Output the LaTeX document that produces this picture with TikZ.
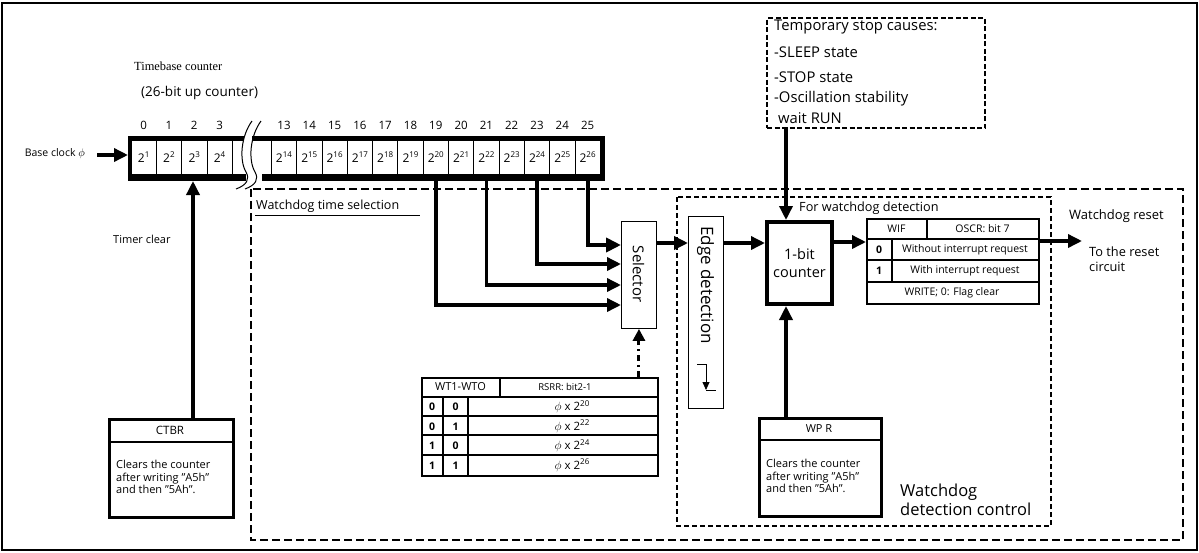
\documentclass[tikz,border=0pt]{standalone}
\usepackage{fontspec}
\setmainfont{Open Sans}
\newfontfamily\tbserif{Liberation Serif}
\usetikzlibrary{arrows.meta}
\newcommand\fsz[1]{\fontsize{#1}{#1}\selectfont}
\newcommand\pw[1]{2\raisebox{0.42em}{\fsz{8}#1}}
\begin{document}
\begin{tikzpicture}[x=1pt,y=-1pt,
  arr/.style={line width=3.4pt,-{Triangle[length=14pt,width=13pt]}},
  arrb/.style={line width=4.2pt,-{Triangle[length=15pt,width=14pt]}},
  lt/.style={inner sep=0pt,anchor=west},
  ct/.style={inner sep=0pt,anchor=center},
  thinbox/.style={draw,line width=0.9pt,inner sep=0pt},
  regbox/.style={draw,line width=2.6pt,inner sep=0pt},
  outerdash/.style={line width=1.4pt,dash pattern=on 8pt off 4pt},
  innerdash/.style={line width=2pt,dash pattern=on 5pt off 3pt},
  tempdash/.style={line width=2.2pt,dash pattern=on 5pt off 2.5pt},
  ddot/.style={line width=3pt,dash pattern=on 6pt off 4pt on 2pt off 4pt,-{Triangle[length=12pt,width=12pt]}},
  cellline/.style={line width=0.8pt}]
\useasboundingbox (0,0) rectangle (1199,552);
% frame
\draw[line width=1.4pt] (2,3) rectangle (1197,550);

% titles
\node[lt,font=\tbserif\fsz{12.4}] (tbc) at (134,66) {Timebase counter};
\node[lt,font=\fsz{13.5}] (tbc2) at (141,93) {(26-bit up counter)};

% register left part
\draw[line width=5pt] (128,138.5) -- (244,138.5);
\draw[line width=7pt] (128,177.5) -- (246,177.5);
\draw[line width=4pt] (130,136) -- (130,181);
\foreach \i in {1,...,4} \draw[cellline] ({131+25.3*\i},141) -- ({131+25.3*\i},174);
\foreach \d [evaluate=\d as \p using int(\d+1)] in {0,...,3} {
  \node[ct,font=\fsz{12}] (cl\d) at ({143.65+25.3*\d},157.5) {\pw{\p}};
  \node[ct,font=\fsz{11.5}] (nl\d) at ({143.65+25.3*\d},125) {\d};
}
% register right part
\draw[line width=5pt] (252,138.5) -- (605,138.5);
\draw[line width=7pt] (262,177.5) -- (605,177.5);
\draw[line width=4.5pt] (602.5,136) -- (602.5,181);
\foreach \i in {0,...,12} \draw[cellline] ({271.35+25.3*\i},141) -- ({271.35+25.3*\i},174);
\foreach \d [evaluate=\d as \p using int(\d+1)] in {13,...,25} {
  \node[ct,font=\fsz{12}] (cr\d) at ({284+25.3*(\d-13)},157.5) {\pw{\p}};
  \node[ct,font=\fsz{11.5}] (nr\d) at ({284+25.3*(\d-13)},125) {\d};
}
% break mark
\draw[line width=1pt] (252,121) .. controls (241,136) and (239,160) .. (246,172) .. controls (250,179) and (247,185) .. (236,189);
\draw[line width=1pt] (261,121) .. controls (250,136) and (248,160) .. (255,172) .. controls (259,179) and (256,185) .. (245,189);

% base clock
\node[inner sep=0pt,anchor=east,font=\fsz{10.5}] (bclk) at (85,154) {Base clock $\phi$};
\coordinate (regin) at (128,155);
\draw[arr] (97,155) -- (regin);

% outer dashed box
\draw[outerdash] (251,189) rectangle (1183,540);
\node[lt,font=\fsz{12.5}] (wts) at (256,206) {Watchdog time selection};
\draw[line width=0.8pt] (255,215) -- (420,215);

% timer clear and CTBR
\node[lt,font=\fsz{11}] (tclr) at (113,239) {Timer clear};
\node[regbox,minimum width=124pt,minimum height=98pt,anchor=north west] (ctbr) at (108,418) {};
\draw[line width=2.6pt] (108,442) -- (232,442);
\node[ct,font=\fsz{11.5}] (ctbrh) at (170,430) {CTBR};
\node[lt,font=\fsz{11},align=left] (ctbrt) at (116,477) {Clears the counter\\[1.5pt]after writing "A5h"\\[1.5pt]and then "5Ah".};
\coordinate (regclr) at (193,181);
\draw[arr] (ctbr.north -| regclr) -- (regclr);

% selector
\node[thinbox,minimum width=35pt,minimum height=107pt,anchor=north west] (sel) at (621,221) {};
\node[ct,rotate=-90,font=\fsz{15}] (selt) at (638.5,274) {Selector};
\coordinate (t25) at (587.6,181);
\coordinate (t23) at (537,181);
\coordinate (t21) at (486.4,181);
\coordinate (t19) at (435.8,181);
\draw[arrb] (t25) |- (sel.west |- 0,245);
\draw[arr] (t23) |- (sel.west |- 0,264);
\draw[arr] (t21) |- (sel.west |- 0,285);
\draw[arr] (t19) |- (sel.west |- 0,305);

% WT table
\node[regbox,minimum width=236pt,minimum height=98pt,anchor=north west,line width=2.2pt] (wt) at (421,377) {};
\foreach \y in {397,416,435,455} \draw[line width=1.7pt] (421,\y) -- (657,\y);
\draw[line width=1.7pt] (500,377) -- (500,397);
\draw[line width=1.7pt] (443,397) -- (443,475);
\draw[line width=1.7pt] (468,397) -- (468,475);
\node[ct,font=\fsz{11}] (wth1) at (460.5,387) {WT1-WTO};
\node[ct,font=\fsz{9.5}] (wth2) at (565,387) {RSRR: bit2-1};
\foreach \a/\b/\e [count=\k] in {0/0/20,0/1/22,1/0/24,1/1/26} {
  \pgfmathsetmacro\yy{397+19.5*\k-9.75}
  \node[ct,font=\bfseries\fsz{10.5}] (wa\k) at (432,\yy) {\a};
  \node[ct,font=\bfseries\fsz{10.5}] (wb\k) at (455.5,\yy) {\b};
  \node[ct,font=\fsz{11.5}] (wv\k) at (572,\yy) {$\phi$ x \pw{\e}};
}
\draw[ddot] (wt.north -| sel.south) -- (sel.south);

% inner dashed box
\draw[innerdash] (677,197) rectangle (1051,526);
\node[lt,font=\fsz{12.7}] (fwd) at (799,208) {For watchdog detection};

% edge detection
\node[thinbox,minimum width=35pt,minimum height=192pt,anchor=north west] (edge) at (688,216) {};
\node[inner sep=0pt,anchor=west,rotate=-90,font=\fsz{17}] (edget) at (705.5,226) {Edge detection};
\draw[line width=0.8pt] (697,364) -- (706,364);
\draw[line width=0.8pt,-{Triangle[length=8pt,width=7pt]}] (706,364) -- (706,390);
\draw[line width=0.8pt] (706,390) -- (716,390);
\draw[arr] (sel.east |- 0,243) -- (edge.west |- 0,243);

% 1-bit counter
\node[draw,line width=4pt,minimum width=65pt,minimum height=82pt,anchor=north west,align=center,font=\fsz{14.5}] (cnt) at (765,220) {1-bit\\[3pt]counter};
\draw[arr] (edge.east |- 0,243) -- (cnt.west |- 0,243);

% temporary stop box
\node[draw,tempdash,minimum width=218pt,minimum height=110pt,anchor=north west] (temp) at (766,17) {};
\node[lt,font=\fsz{14.8}] (tp1) at (774,27) {Temporary stop causes:};
\node[lt,font=\fsz{14.8}] (tp2) at (774,52) {-SLEEP state};
\node[lt,font=\fsz{14.8}] (tp3) at (774,77) {-STOP state};
\node[lt,font=\fsz{14.8}] (tp4) at (774,99) {-Oscillation stability};
\node[lt,font=\fsz{14.8}] (tp5) at (778,118) {wait RUN};
\coordinate (tstop) at (786,127);
\draw[arr] (tstop) -- (tstop |- cnt.north);

% WPR
\node[regbox,minimum width=122pt,minimum height=98pt,anchor=north west] (wpr) at (758,417) {};
\draw[line width=2.6pt] (758,440) -- (880,440);
\node[ct,font=\fsz{11}] (wprh) at (819,428.5) {WP R};
\node[lt,font=\fsz{11},align=left] (wprt) at (766,476) {Clears the counter\\[1.5pt]after writing "A5h"\\[1.5pt]and then "5Ah".};
\draw[arr] (wpr.north -| tstop) -- (cnt.south -| tstop);
\node[lt,font=\fsz{16.5},align=left] (wdc) at (900,500) {Watchdog\\[3pt]detection control};

% WIF table
\node[regbox,minimum width=172pt,minimum height=85pt,anchor=north west,line width=2.4pt] (wif) at (866,218) {};
\foreach \y in {239,260,282} \draw[line width=2pt] (866,\y) -- (1038,\y);
\draw[line width=2pt] (927,218) -- (927,239);
\draw[line width=2pt] (892,239) -- (892,282);
\node[ct,font=\fsz{10.5}] (wifh1) at (896.5,228.5) {WIF};
\node[ct,font=\fsz{10.5}] (wifh2) at (982.5,228.5) {OSCR: bit 7};
\node[ct,font=\bfseries\fsz{10.5}] (wif0) at (879,249.5) {0};
\node[ct,font=\fsz{10.5}] (wif0t) at (965,249.5) {Without interrupt request};
\node[ct,font=\bfseries\fsz{10.5}] (wif1) at (879,271) {1};
\node[ct,font=\fsz{10.5}] (wif1t) at (965,271) {With interrupt request};
\node[ct,font=\fsz{10.5}] (wifw) at (952,292.5) {WRITE; 0: Flag clear};
\draw[arr] (cnt.east |- 0,242) -- (wif.west |- 0,242);

% output
\node[lt,font=\fsz{13}] (wdr) at (1069,216) {Watchdog reset};
\node[lt,font=\fsz{12.8},align=left] (trc) at (1089,259) {To the reset\\[2pt]circuit};
\coordinate (outend) at (1082,241);
\draw[arr] (wif.east |- outend) -- (outend);
\end{tikzpicture}
\end{document}
